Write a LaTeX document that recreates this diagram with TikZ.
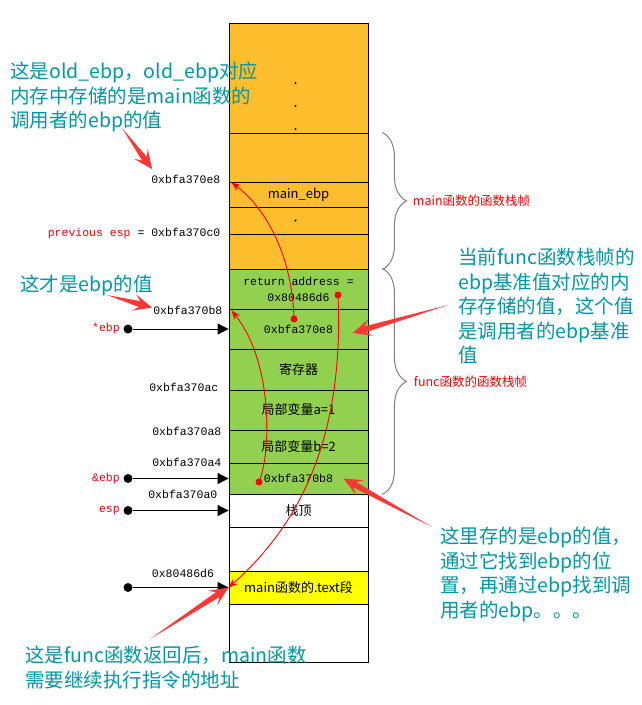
\documentclass[tikz,border=0pt]{standalone}
\usepackage{fontspec}
\setmainfont{Noto Sans CJK SC}
\newfontfamily\monofont{Liberation Mono}
\usetikzlibrary{arrows.meta, positioning, calc, decorations.pathreplacing}

\definecolor{stackorange}{RGB}{252,190,45}
\definecolor{stackgreen}{RGB}{146,208,80}
\definecolor{stackyellow}{RGB}{255,255,0}
\definecolor{noteteal}{RGB}{0,150,165}
\definecolor{callred}{RGB}{255,55,55}

% tapered red pointer used for the notes: tail -> tip
\newcommand{\callout}[2]{%
  \fill[callred] (#1)
    -- ($(#2)!13pt!(#1)!3pt!90:(#1)$)
    -- ($(#2)!19pt!(#1)!8.5pt!90:(#1)$)
    -- (#2)
    -- ($(#2)!19pt!(#1)!8.5pt!-90:(#1)$)
    -- ($(#2)!13pt!(#1)!3pt!-90:(#1)$)
    -- cycle;}

\begin{document}
\begin{tikzpicture}[
    x=1pt, y=-1pt,
    cell/.style={draw, line width=0.9pt, minimum width=139pt, inner sep=0pt, align=center, font=\fontsize{13}{15}\selectfont},
    mono/.style={font=\monofont\fontsize{11.5}{16}\selectfont},
    addr/.style={mono, anchor=east, inner sep=0pt},
    note/.style={text=noteteal, font=\fontsize{19.5}{24.5}\selectfont, align=left, inner sep=0pt, anchor=north west},
    ptr/.style={circle, fill=black, minimum size=9pt, inner sep=0pt},
    ptrline/.style={draw, line width=1pt, -{Triangle[length=11pt, width=11pt]}},
    link/.style={draw=red, line width=0.9pt, -{Stealth[length=9pt, width=7pt]}},
    linkdot/.style={circle, fill=red, minimum size=7pt, inner sep=0pt},
    framebrace/.style={draw=gray, line width=1pt, decorate, decoration={brace, amplitude=24pt}},
    framelabel/.style={text=red, font=\fontsize{12.5}{14}\selectfont, anchor=west, inner sep=0pt}
  ]
  \useasboundingbox (0,0) rectangle (641,705);

  % main frame (orange)
  \node [cell, fill=stackorange, minimum height=110pt] (r1) at (298.5,78) {};
  \node [cell, fill=stackorange, minimum height=49pt] (r2) at (298.5,157.5) {};
  \node [cell, fill=stackorange, minimum height=25pt] (r3) at (298.5,194.5) {main\_ebp};
  \node [cell, fill=stackorange, minimum height=27pt] (r4) at (298.5,220.5) {};
  \node [cell, fill=stackorange, minimum height=35pt] (r5) at (298.5,251.5) {};
  \fill ($(r1.center)+(-3,5)$) circle (1.2pt);
  \fill ($(r1.center)+(-3,28)$) circle (1.2pt);
  \fill ($(r1.center)+(-3,51)$) circle (1.2pt);
  \fill ($(r4.center)+(-3,0)$) circle (1.2pt);

  % func frame (green)
  \node [cell, fill=stackgreen, minimum height=40pt, mono] (g1) at (298.5,289) {return address =\\0x80486d6};
  \node [cell, fill=stackgreen, minimum height=40pt, mono] (g2) at (298.5,329) {0xbfa370e8};
  \node [cell, fill=stackgreen, minimum height=41pt] (g3) at (298.5,369.5) {寄存器};
  \node [cell, fill=stackgreen, minimum height=40pt] (g4) at (298.5,410) {局部变量a=1};
  \node [cell, fill=stackgreen, minimum height=33pt] (g5) at (298.5,446.5) {局部变量b=2};
  \node [cell, fill=stackgreen, minimum height=31pt, mono] (g6) at (298.5,478.5) {0xbfa370b8};

  % below
  \node [cell, fill=white, minimum height=33pt] (w1) at (298.5,510.5) {栈顶};
  \node [cell, fill=white, minimum height=44pt] (w2) at (298.5,549) {};
  \node [cell, fill=stackyellow, minimum height=33pt] (y1) at (298.5,587.5) {main函数的.text段};
  \node [cell, fill=white, minimum height=58pt] (w3) at (298.5,633) {};

  % addresses
  \node [addr] (aE8) at ($(r3.north west)+(-8,-2)$) {0xbfa370e8};
  \node [addr] (aC0) at ($(r5.north west)+(-8,0)$) {\textcolor{red}{previous esp} = 0xbfa370c0};
  \node [addr] (aB8) at ($(g2.north west)+(-6,2)$) {0xbfa370b8};
  \node [addr] (aAC) at ($(g4.north west)+(-10,-2)$) {0xbfa370ac};
  \node [addr] (aA8) at ($(g5.north west)+(-7,2)$) {0xbfa370a8};
  \node [addr] (aA4) at ($(g6.north west)+(-7,0)$) {0xbfa370a4};
  \node [addr] (aA0) at ($(w1.north west)+(-11,1)$) {0xbfa370a0};

  % pointers
  \node [ptr, label={[mono, text=red]left:*ebp}] (pEbp) at (128,329) {};
  \node [ptr, label={[mono, text=red]left:\&ebp}] (pAmp) at (128,478.5) {};
  \node [ptr, label={[mono, text=red]left:esp}] (pEsp) at (128,510.5) {};
  \node [ptr] (pText) at (128,587.5) {};
  \node [mono] (aText) at (183,573) {0x80486d6};
  \path [ptrline] (pEbp) -- (g2.west);
  \path [ptrline] (pAmp) -- (g6.west);
  \path [ptrline] (pEsp) -- (w1.west);
  \path [ptrline] (pText) -- (y1.west);

  % saved values -> where they point
  \node [linkdot] (dE8) at (294,319) {};
  \node [linkdot] (dRet) at (338,295) {};
  \node [linkdot] (dB8) at (259,482) {};
  \path [link] (dE8.center) .. controls (292,250) and (262,205) .. ($(r3.north west)+(3,1)$);
  \path [link] (dRet.center) .. controls (344,430) and (305,520) .. (y1.west);
  \path [link] (dB8.center) .. controls (272,450) and (272,360) .. ($(g2.north west)+(3,2)$);

  % frames
  \draw [framebrace] ($(r2.north east)+(14,0)$) -- ($(r5.south east)+(14,0)$)
    node [framelabel, midway, xshift=30pt] (fMain) {main函数的函数栈帧};
  \draw [framebrace] ($(g1.north east)+(14,0)$) -- ($(g6.south east)+(14,0)$)
    node [framelabel, midway, xshift=31pt] (fFunc) {func函数的函数栈帧};

  % notes
  \node [note] (nOld) at (10,62) {这是old\_ebp，old\_ebp对应\\内存中存储的是main函数的\\调用者的ebp的值};
  \node [note, anchor=west] (nEbp) at (20,285) {这才是ebp的值};
  \node [note] (nFunc) at (458,248) {当前func函数栈帧的\\ebp基准值对应的内\\存存储的值，这个值\\是调用者的ebp基准\\值};
  \node [note] (nB8) at (440,527) {这里存的是ebp的值，\\通过它找到ebp的位\\置，再通过ebp找到调\\用者的ebp。。。};
  \node [note] (nRet) at (25,646) {这是func函数返回后，main函数\\需要继续执行指令的地址};

  \coordinate (cOld) at (122,128);
  \coordinate (cEbp) at (107,295);
  \coordinate (cFunc) at (448,305);
  \coordinate (cB8) at (432,527);
  \coordinate (cRet) at (150,639);
  \callout{cOld}{$(aE8.north west)+(1,-6)$}
  \callout{cEbp}{$(aB8.west)+(-1,-3)$}
  \callout{cFunc}{$(g2.east)+(-16,4)$}
  \callout{cB8}{$(g6.east)+(-25,0)$}
  \callout{cRet}{y1.west}
\end{tikzpicture}
\end{document}
